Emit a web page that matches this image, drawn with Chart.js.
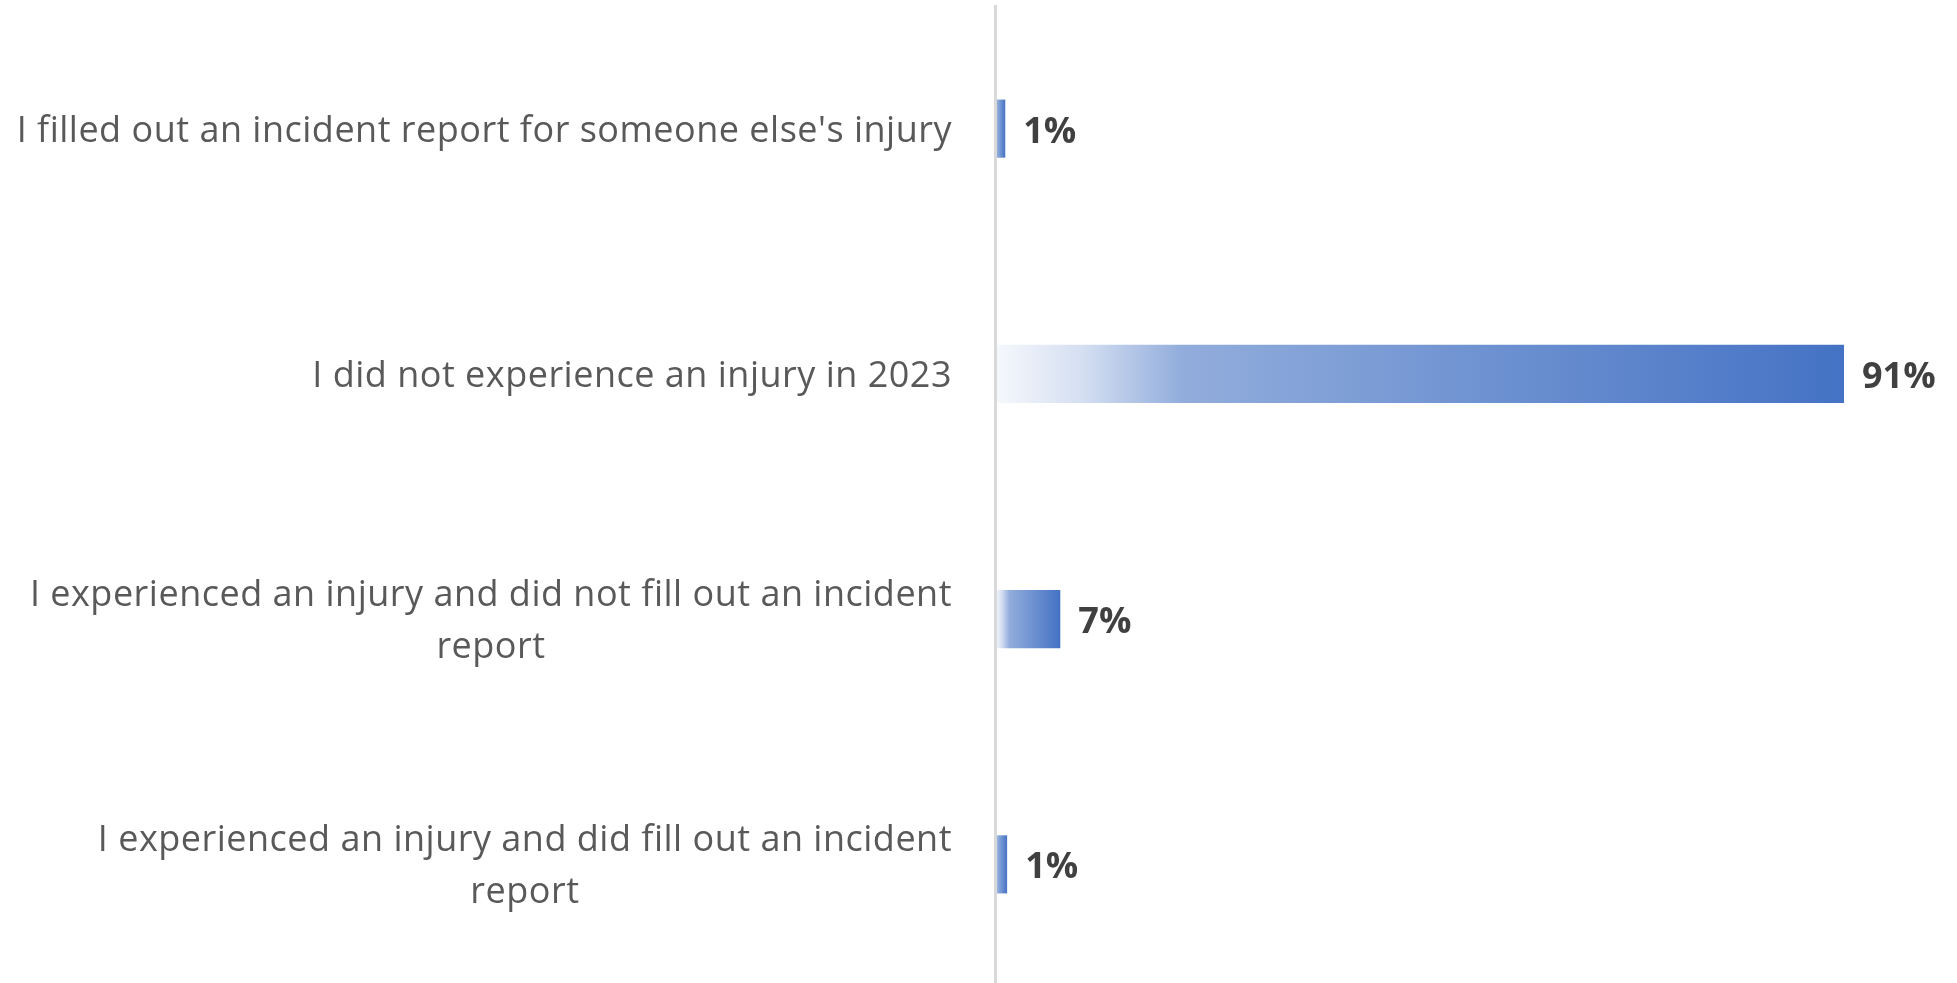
<!DOCTYPE html>
<html>
<head>
<meta charset="utf-8">
<script src="https://cdn.jsdelivr.net/npm/chart.js@4.4.1/dist/chart.umd.min.js"></script>
<style>
    html, body { margin: 0; padding: 0; background: #ffffff; overflow: hidden; }
    #wrap { width: 1957px; height: 987px; position: relative; }
</style>
</head>
<body>
<div id="wrap"><canvas id="injuryChart"></canvas></div>
<script>
// ================= DATA =================
const categories = [
    ["I filled out an incident report for someone else's injury"],
    ["I did not experience an injury in 2023"],
    ["I experienced an injury and did not fill out an incident", "report"],
    ["I experienced an injury and did fill out an incident", "report"]
];
// bar lengths (labels are shown rounded)
const percentValues = [1.1, 91, 7, 1.3];

const labelFont = "36px 'Open Sans'";
const valueFont = "bold 36px 'Open Sans'";

// -------- gradient per bar (light on the left, blue on the right) --------
function barGradient(context) {
    const chart = context.chart;
    const xScale = chart.scales.x;
    if (!chart.chartArea || !xScale || context.parsed === undefined) {
        return "#4472c4";
    }
    const x0 = xScale.getPixelForValue(0);
    const x1 = xScale.getPixelForValue(context.parsed.x);
    const g = chart.ctx.createLinearGradient(x0, 0, x1, 0);
    g.addColorStop(0, "#f6f8fc");
    g.addColorStop(0.1, "#d6e0f2");
    g.addColorStop(0.22, "#92addc");
    g.addColorStop(1, "#4472c4");
    return g;
}

// -------- category labels: block right aligned, lines centred on each other --------
const categoryLabels = {
    id: "categoryLabels",
    afterDraw(chart) {
        const ctx = chart.ctx;
        const yScale = chart.scales.y;
        const rightEdge = chart.chartArea.left - 43;
        ctx.save();
        ctx.font = labelFont;
        ctx.letterSpacing = "0.5px";
        ctx.fillStyle = "#595959";
        ctx.textAlign = "center";
        ctx.textBaseline = "alphabetic";
        categories.forEach((lines, i) => {
            const center = yScale.getPixelForTick(i);
            const blockWidth = Math.max(...lines.map(l => ctx.measureText(l).width));
            const mid = rightEdge - blockWidth / 2;
            lines.forEach((line, j) => {
                const capCenter = center + (j - (lines.length - 1) / 2) * 52;
                ctx.fillText(line, mid, capCenter + 13);
            });
        });
        ctx.restore();
    }
};

// -------- value labels at the bar ends --------
const valueLabels = {
    id: "valueLabels",
    afterDatasetsDraw(chart) {
        const ctx = chart.ctx;
        const meta = chart.getDatasetMeta(0);
        ctx.save();
        ctx.font = valueFont;
        ctx.fillStyle = "#404040";
        ctx.textAlign = "left";
        ctx.textBaseline = "alphabetic";
        meta.data.forEach((bar, i) => {
            ctx.fillText(Math.round(percentValues[i]) + "%", bar.x + 18, bar.y + 14);
        });
        ctx.restore();
    }
};

// ================= CHART =================
new Chart(document.getElementById("injuryChart"), {
    type: "bar",
    data: {
        labels: categories,
        datasets: [{
            data: percentValues,
            backgroundColor: barGradient,
            borderWidth: 0,
            categoryPercentage: 1,
            barPercentage: 0.237
        }]
    },
    options: {
        indexAxis: "y",
        responsive: true,
        maintainAspectRatio: false,
        animation: false,
        layout: { padding: { top: 6, right: 29, bottom: 0, left: 0 } },
        plugins: {
            legend: { display: false },
            tooltip: { enabled: false }
        },
        scales: {
            x: {
                min: 0,
                max: 100,
                display: false
            },
            y: {
                afterFit(scale) { scale.width = 995; },
                ticks: { display: false },
                grid: { display: false, drawTicks: false },
                border: { display: true, color: "#d9d9d9", width: 3, z: 1 }
            }
        }
    },
    plugins: [categoryLabels, valueLabels]
});
</script>
</body>
</html>
